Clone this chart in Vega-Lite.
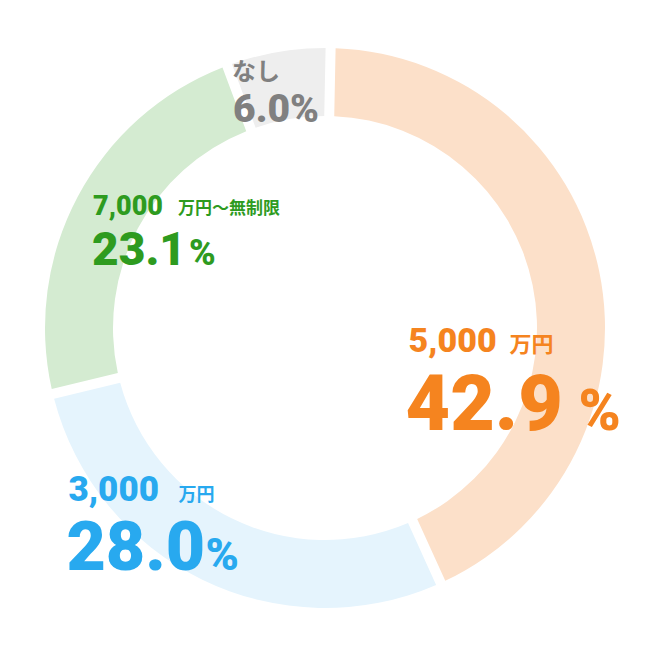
{
  "$schema": "https://vega.github.io/schema/vega-lite/v6.json",
  "width": 650,
  "height": 650,
  "autosize": {"type": "fit", "contains": "padding"},
  "padding": {"top": 6, "left": 0, "right": 0, "bottom": 0},
  "background": "white",
  "view": {"stroke": null},
  "data": {
    "values": [
      {"cat": "5,000万円", "rank": 1, "pct": 42.9, "num": "5,000", "unit": "万円", "val": "42.9", "sign": "%"},
      {"cat": "3,000万円", "rank": 2, "pct": 28.0, "num": "3,000", "unit": "万円", "val": "28.0", "sign": "%"},
      {"cat": "7,000万円〜無制限", "rank": 3, "pct": 23.1, "num": "7,000", "unit": "万円〜無制限", "val": "23.1", "sign": "%"},
      {"cat": "なし", "rank": 4, "pct": 6.0, "num": "なし", "unit": "", "val": "6.0%", "sign": ""}
    ]
  },
  "transform": [
    {"stack": "pct", "groupby": [], "sort": [{"field": "rank", "order": "ascending"}], "as": ["p0", "p1"]}
  ],
  "encoding": {
    "theta": {"field": "p0", "type": "quantitative", "stack": null, "scale": {"domain": [0, 100], "range": [0.02, 6.3032]}}
  },
  "layer": [
    {
      "mark": {"type": "arc", "innerRadius": 212, "outerRadius": 280, "padAngle": 0.0285},
      "encoding": {
        "theta2": {"field": "p1"},
        "color": {
          "field": "cat", "type": "nominal", "legend": null,
          "scale": {"domain": ["5,000万円", "3,000万円", "7,000万円〜無制限", "なし"], "range": ["#fce0c9", "#e5f4fd", "#d4ebd1", "#eeeeee"]}
        }
      }
    },
    {
      "transform": [{"filter": "datum.rank == 1"}],
      "layer": [
        {"mark": {"type": "text", "radius": 180, "dx": 80, "dy": 204, "align": "left", "baseline": "alphabetic", "font": "Roboto", "fontWeight": 900, "fontSize": 34, "color": "#f5841f"}, "encoding": {"text": {"field": "num"}}},
        {"mark": {"type": "text", "radius": 180, "dx": 181, "dy": 204, "align": "left", "baseline": "alphabetic", "font": "Noto Sans CJK JP", "fontWeight": "bold", "fontSize": 22, "color": "#f5841f"}, "encoding": {"text": {"field": "unit"}}},
        {"mark": {"type": "text", "radius": 180, "dx": 77, "dy": 282, "align": "left", "baseline": "alphabetic", "font": "Roboto", "fontWeight": 900, "fontSize": 77, "color": "#f5841f"}, "encoding": {"text": {"field": "val"}}},
        {"mark": {"type": "text", "radius": 180, "dx": 250, "dy": 282, "align": "left", "baseline": "alphabetic", "font": "Roboto", "fontWeight": 900, "fontSize": 57, "color": "#f5841f"}, "encoding": {"text": {"field": "sign"}}}
      ]
    },
    {
      "transform": [{"filter": "datum.rank == 2"}],
      "layer": [
        {"mark": {"type": "text", "radius": 180, "dx": -331, "dy": 9, "align": "left", "baseline": "alphabetic", "font": "Roboto", "fontWeight": 900, "fontSize": 35, "color": "#28a9ef"}, "encoding": {"text": {"field": "num"}}},
        {"mark": {"type": "text", "radius": 180, "dx": -221, "dy": 9, "align": "left", "baseline": "alphabetic", "font": "Noto Sans CJK JP", "fontWeight": "bold", "fontSize": 18, "color": "#28a9ef"}, "encoding": {"text": {"field": "unit"}}},
        {"mark": {"type": "text", "radius": 180, "dx": -333, "dy": 78, "align": "left", "baseline": "alphabetic", "font": "Roboto", "fontWeight": 900, "fontSize": 68, "color": "#28a9ef"}, "encoding": {"text": {"field": "val"}}},
        {"mark": {"type": "text", "radius": 180, "dx": -194, "dy": 78, "align": "left", "baseline": "alphabetic", "font": "Roboto", "fontWeight": 900, "fontSize": 45, "color": "#28a9ef"}, "encoding": {"text": {"field": "sign"}}}
      ]
    },
    {
      "transform": [{"filter": "datum.rank == 3"}],
      "layer": [
        {"mark": {"type": "text", "radius": 180, "dx": -57, "dy": -155, "align": "left", "baseline": "alphabetic", "font": "Roboto", "fontWeight": 900, "fontSize": 27, "color": "#2e9b1f"}, "encoding": {"text": {"field": "num"}}},
        {"mark": {"type": "text", "radius": 180, "dx": 28, "dy": -156, "align": "left", "baseline": "alphabetic", "font": "Noto Sans CJK JP", "fontWeight": "bold", "fontSize": 17, "color": "#2e9b1f"}, "encoding": {"text": {"field": "unit"}}},
        {"mark": {"type": "text", "radius": 180, "dx": -58, "dy": -105, "align": "left", "baseline": "alphabetic", "font": "Roboto", "fontWeight": 900, "fontSize": 46, "color": "#2e9b1f"}, "encoding": {"text": {"field": "val"}}},
        {"mark": {"type": "text", "radius": 180, "dx": 39, "dy": -105, "align": "left", "baseline": "alphabetic", "font": "Roboto", "fontWeight": 900, "fontSize": 36, "color": "#2e9b1f"}, "encoding": {"text": {"field": "sign"}}}
      ]
    },
    {
      "transform": [{"filter": "datum.rank == 4"}],
      "layer": [
        {"mark": {"type": "text", "radius": 180, "dx": -30, "dy": -79, "align": "left", "baseline": "alphabetic", "font": "Noto Sans CJK JP", "fontWeight": "bold", "fontSize": 24, "color": "#808080"}, "encoding": {"text": {"field": "num"}}},
        {"mark": {"type": "text", "radius": 180, "dx": -29, "dy": -37, "align": "left", "baseline": "alphabetic", "font": "Roboto", "fontWeight": 900, "fontSize": 39, "color": "#808080"}, "encoding": {"text": {"field": "val"}}}
      ]
    }
  ]
}
